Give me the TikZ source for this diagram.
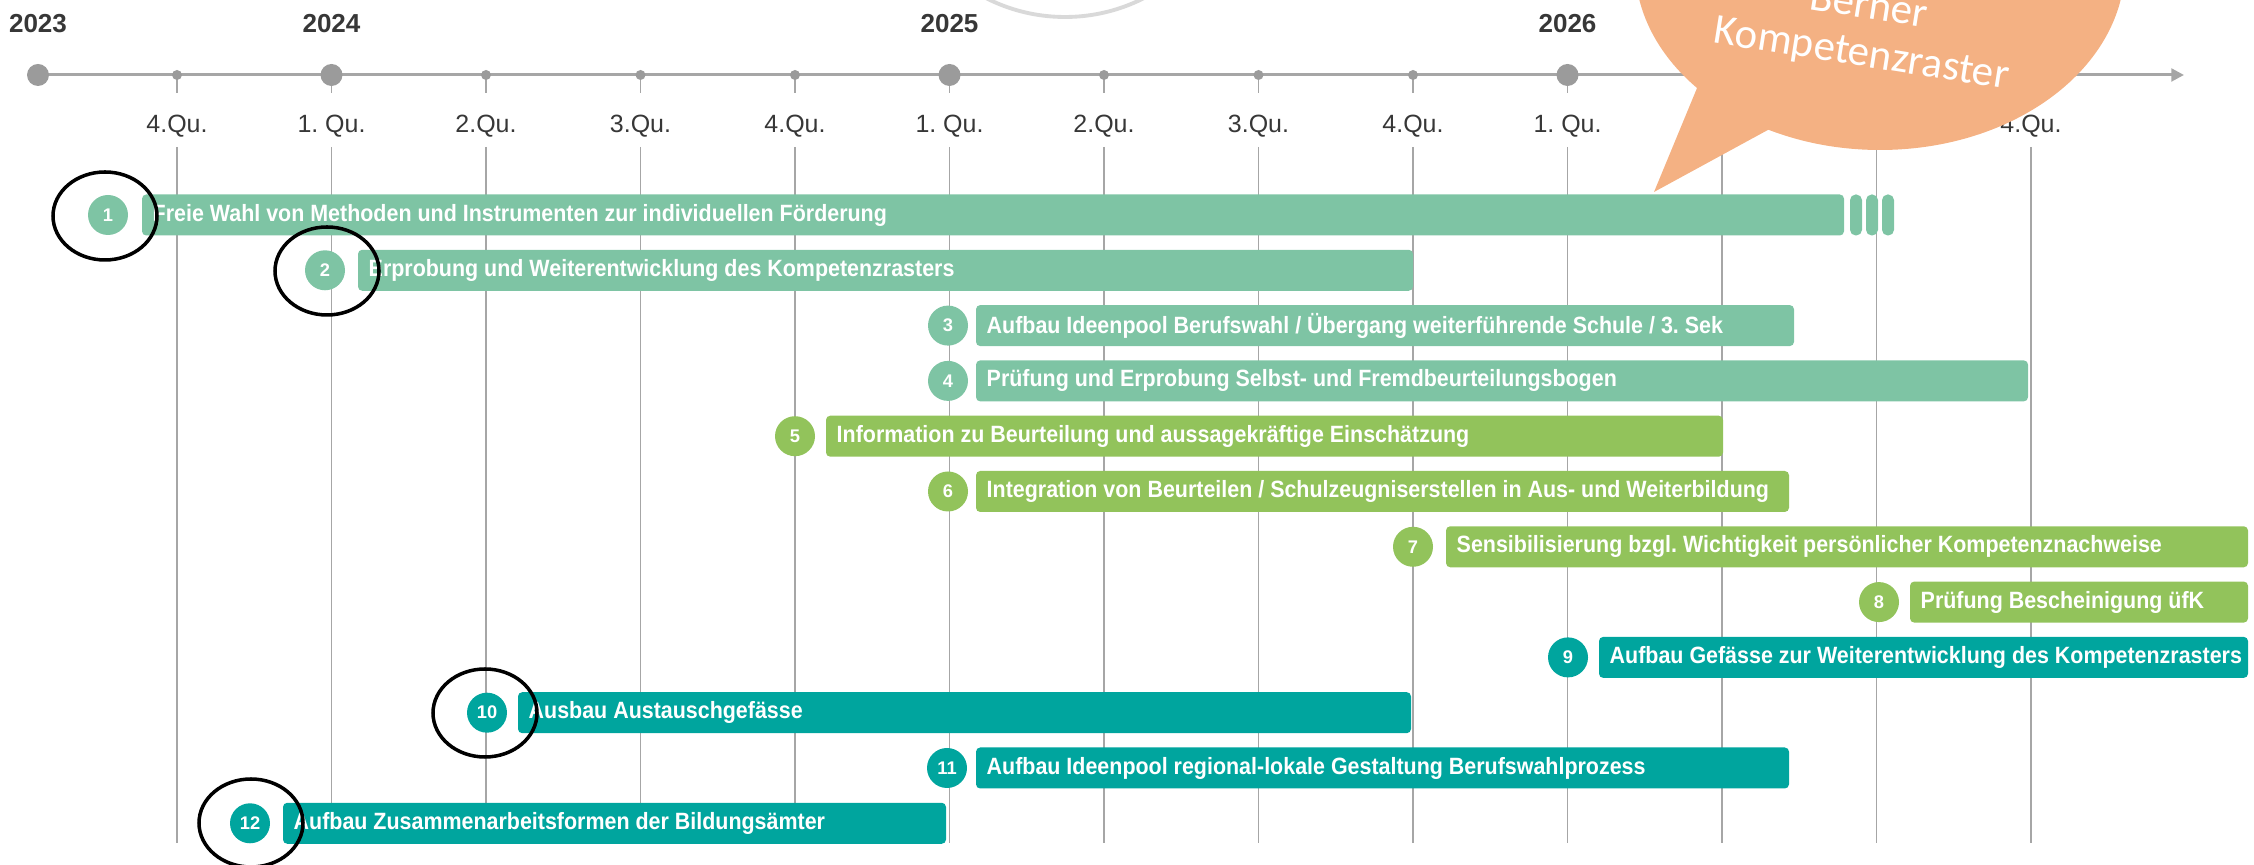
\documentclass[tikz,border=0pt]{standalone}
\usepackage{fontspec}
\setmainfont{Liberation Sans}
\newfontfamily\taskfont[FakeStretch=0.91]{Liberation Sans}
\newfontfamily\bubblefont{Carlito}
\frenchspacing
\usetikzlibrary{arrows.meta}
\definecolor{mint}{RGB}{126,196,164}
\definecolor{leaf}{RGB}{146,195,91}
\definecolor{sea}{RGB}{0,165,158}
\definecolor{bubble}{RGB}{244,177,131}
\definecolor{axisgray}{RGB}{166,166,166}
\definecolor{dotgray}{RGB}{155,155,155}
\definecolor{labelgray}{RGB}{55,55,55}
\definecolor{ringgray}{RGB}{217,217,217}
\begin{document}
\begin{tikzpicture}[x=0.01cm,y=-0.01cm,
	task/.style={font=\taskfont\bfseries\fontsize{6.7pt}{7pt}\selectfont,text=white,anchor=west,inner sep=0pt},
	num/.style={font=\bfseries\fontsize{5.2pt}{6pt}\selectfont,text=white,inner sep=0pt},
	qlabel/.style={font=\fontsize{7.1pt}{8pt}\selectfont,text=labelgray,inner sep=0pt},
	ylabel/.style={font=\bfseries\fontsize{7.4pt}{9pt}\selectfont,text=labelgray,inner sep=0pt},
	bubbletext/.style={font=\bubblefont\fontsize{12.2pt}{13.7pt}\selectfont,text=white,inner sep=0pt,rotate=-9,align=center},
	ring/.style={draw=black,line width=1pt}]
	\useasboundingbox (0,0) rectangle (2254,865);
	\clip (0,0) rectangle (2254,865);
	% Grey ring, cut off at the top edge
	\draw[ringgray,line width=1.1pt] (1065,-157) circle (174);
	% Draw time axis
	\draw[axisgray,line width=0.85pt,-{Triangle[length=3.6pt,width=3.6pt]}] (38,75) -- (2184,75);
	% Quarter grid: short tick, long line and small dot
	\foreach \k in {0,...,12} {
		\draw[axisgray,line width=0.4pt] (177+154.5*\k,75) -- (177+154.5*\k,93);
		\draw[axisgray,line width=0.4pt] (177+154.5*\k,147) -- (177+154.5*\k,843);
		\fill[dotgray] (177+154.5*\k,75) circle (5);
	}
	% Year dots and labels
	\foreach \x/\yr in {38/2023, 331.5/2024, 949.5/2025, 1567.5/2026} {
		\fill[dotgray] (\x,75) circle (11);
		\node[ylabel] (year\yr) at (\x,24) {\yr};
	}
	% Quarter labels
	\foreach \k/\q in {0/4.Qu., 1/1. Qu., 2/2.Qu., 3/3.Qu., 4/4.Qu., 5/1. Qu., 6/2.Qu., 7/3.Qu., 8/4.Qu., 9/1. Qu., 12/4.Qu.} {
		\node[qlabel] (quarter\k) at (177+154.5*\k,126) {\q};
	}
	% Measures: number circle and bar
	\foreach \n/\cx/\s/\e/\c/\t in {
		1/108/142/1844/mint/{Freie Wahl von Methoden und Instrumenten zur individuellen Förderung},
		2/325/358/1413/mint/{Erprobung und Weiterentwicklung des Kompetenzrasters},
		3/948/976/1794/mint/{Aufbau Ideenpool Berufswahl / Übergang weiterführende Schule / 3. Sek},
		4/948/976/2028/mint/{Prüfung und Erprobung Selbst- und Fremdbeurteilungsbogen},
		5/795/826/1723/leaf/{Information zu Beurteilung und aussagekräftige Einschätzung},
		6/948/976/1789/leaf/{Integration von Beurteilen / Schulzeugniserstellen in Aus- und Weiterbildung},
		7/1413/1446/2248/leaf/{Sensibilisierung bzgl. Wichtigkeit persönlicher Kompetenznachweise},
		8/1879/1910/2248/leaf/{Prüfung Bescheinigung üfK},
		9/1568/1599/2248/sea/{Aufbau Gefässe zur Weiterentwicklung des Kompetenzrasters},
		10/487/518/1411/sea/{Ausbau Austauschgefässe},
		11/947/976/1789/sea/{Aufbau Ideenpool regional-lokale Gestaltung Berufswahlprozess},
		12/250/283/946/sea/{Aufbau Zusammenarbeitsformen der Bildungsämter}} {
		\pgfmathsetmacro\yy{215+55.3*(\n-1)}
		\fill[\c,rounded corners=1.2pt] (\s,\yy-20.5) rectangle (\e,\yy+20.5);
		\fill[\c] (\cx,\yy) circle (20);
		\node[num] (num\n) at (\cx,\yy) {\n};
		\node[task] (task\n) at (\s+10,\yy) {\t};
	}
	% Open end of measure 1
	\foreach \x in {1850,1866,1882}
		\fill[mint,rounded corners=1.6pt] (\x,194.5) rectangle (\x+12,235.5);
	% Black rings round measures 1, 2, 10 and 12
	\foreach \x/\y in {105/216, 327/271, 485/713, 251/823}
		\draw[ring] (\x,\y) ellipse (52 and 44);
	% Speech bubble
	\fill[bubble] (1880,-35) ellipse (245 and 185);
	\fill[bubble] (1702,76) -- (1654,192) -- (1777,125) -- cycle;
	\node[bubbletext] (raster) at (1865,32) {Berner\\Kompetenzraster};
\end{tikzpicture}
\end{document}
